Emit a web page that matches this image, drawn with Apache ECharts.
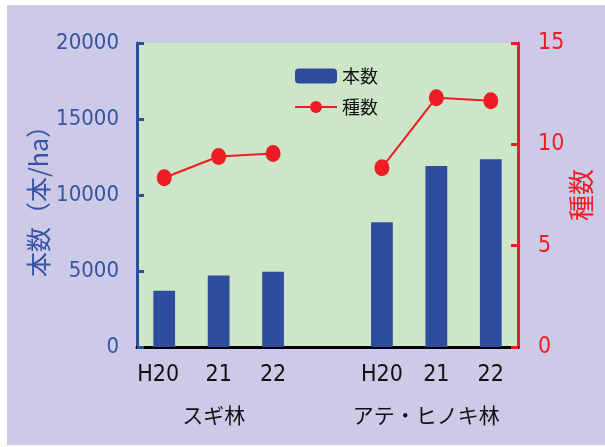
<!DOCTYPE html>
<html>
<head>
<meta charset="utf-8">
<script src="https://cdn.jsdelivr.net/npm/echarts@6/dist/echarts.min.js"></script>
<style>
html,body{margin:0;padding:0;background:#fff;}
#c{width:605px;height:447px;background:linear-gradient(#cccae6,#cccae6) 7px 5px / 598px 440px no-repeat,#fff;}
</style>
</head>
<body>
<div id="c"></div>
<script>
var categories = ['H20', '21', '22', '', 'H20', '21', '22'];
var groupLabels = ['', 'スギ林', '', '', '', 'アテ・ヒノキ林', ''];
var stemCounts = [3700, 4700, 4950, null, 8200, 11900, 12350];
var speciesCounts = [8.35, 9.4, 9.55, null, 8.85, 12.3, 12.15];
var leftTicks = [0, 20000, 5000];
var rightTicks = [0, 15, 5];

var NUM_FONT = "'Liberation Sans Narrow','DejaVu Sans Condensed','Liberation Sans',sans-serif";
var JP_FONT = "'Noto Sans CJK JP',sans-serif";
var BLUE = '#2e4d9f', RED = '#ee1c24', BLUE_TXT = '#3653a4';

var chart = echarts.init(document.getElementById('c'), null, {renderer: 'canvas'});
chart.setOption({
  animation: false,
  backgroundColor: 'transparent',
  grid: {left: 137, right: 87, top: 43, bottom: 100, show: true, backgroundColor: '#cde6c8', borderWidth: 0,
         containLabel: false, outerBoundsMode: 'none'},
  legend: {
    orient: 'vertical', left: 294, top: 67, padding: 0, itemWidth: 42, itemHeight: 15, itemGap: 13,
    textStyle: {fontFamily: JP_FONT, fontSize: 18, color: '#111'},
    data: ['本数', '種数']
  },
  xAxis: [{
    type: 'category', data: categories.map(function (c, i) {
      return i === 0 ? {value: c, textStyle: {padding: [0, 12, 0, 0]}} : c;
    }),
    axisLine: {lineStyle: {color: '#000', width: 3}},
    axisTick: {inside: true, length: 8, lineStyle: {color: '#000', width: 2.5}},
    axisLabel: {interval: 0, color: '#111', fontFamily: NUM_FONT, fontSize: 23, margin: 17}
  }, {
    type: 'category', position: 'bottom', data: groupLabels.map(function (c, i) {
      return i === 1 ? {value: c, textStyle: {padding: [0, 10, 0, 0]}} :
             i === 5 ? {value: c, textStyle: {padding: [0, 20, 0, 0]}} : c;
    }),
    axisLine: {show: false}, axisTick: {show: false},
    axisLabel: {interval: 0, color: '#111', fontFamily: JP_FONT, fontSize: 21, margin: 58}
  }],
  yAxis: [{
    type: 'value', min: leftTicks[0], max: leftTicks[1], interval: leftTicks[2],
    name: '本数（本/ha）', nameLocation: 'middle', nameGap: 86, nameMoveOverlap: false,
    nameTextStyle: {fontFamily: JP_FONT, fontSize: 25, color: BLUE_TXT},
    axisLine: {show: true, lineStyle: {color: BLUE, width: 3}},
    axisTick: {show: true, inside: true, length: 7, lineStyle: {color: BLUE, width: 3}},
    axisLabel: {color: BLUE_TXT, fontFamily: NUM_FONT, fontSize: 22, margin: 18,
                formatter: function (v) { return String(v); }},
    splitLine: {show: false}
  }, {
    type: 'value', min: rightTicks[0], max: rightTicks[1], interval: rightTicks[2],
    position: 'right',
    name: '種数', nameLocation: 'middle', nameGap: 50, nameRotate: 90, nameMoveOverlap: false,
    nameTextStyle: {fontFamily: JP_FONT, fontSize: 26, color: RED},
    axisLine: {show: true, lineStyle: {color: RED, width: 3}},
    axisTick: {show: true, inside: true, length: 7, lineStyle: {color: RED, width: 3}},
    axisLabel: {color: RED, fontFamily: NUM_FONT, fontSize: 23, margin: 20,
                formatter: function (v) { return String(v); }},
    splitLine: {show: false}
  }],
  series: [{
    name: '本数', type: 'bar', data: stemCounts, barWidth: '40%',
    itemStyle: {color: BLUE}
  }, {
    name: '種数', type: 'line', yAxisIndex: 1, data: speciesCounts,
    connectNulls: false, symbol: 'circle', symbolSize: [15, 17],
    lineStyle: {color: RED, width: 2}, itemStyle: {color: RED}
  }]
});
</script>
</body>
</html>
